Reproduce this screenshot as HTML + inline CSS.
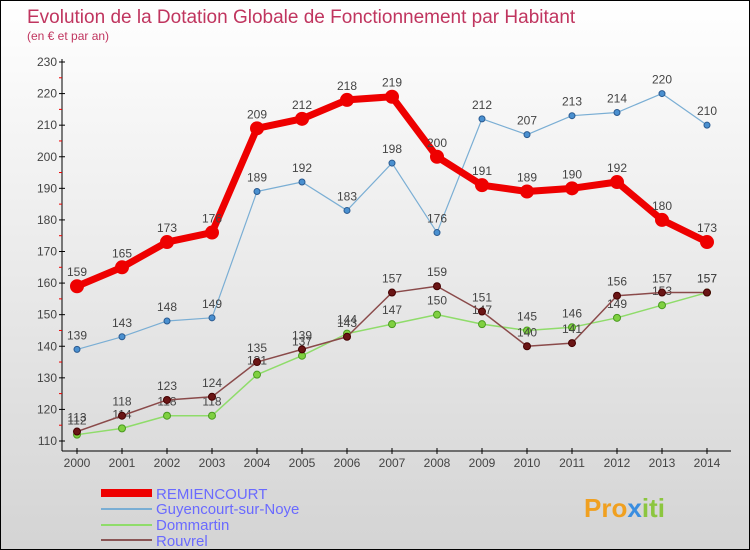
<!DOCTYPE html>
<html><head><meta charset="utf-8"><style>
body{margin:0}
#c{width:750px;height:550px;position:relative;overflow:hidden;box-sizing:border-box;border:1px solid #000;background:linear-gradient(#ffffff,#d4d4d4);font-family:"Liberation Sans",sans-serif}
</style></head><body>
<div id="c">
<svg id="s" width="750" height="550" style="position:absolute;left:0;top:0">
<text x="26" y="22" font-size="19" fill="#c0355f">Evolution de la Dotation Globale de Fonctionnement par Habitant</text>
<text x="26" y="39" font-size="12" fill="#c0355f">(en € et par an)</text>
<g id="axes"></g><g id="series"></g>
<g>
<rect x="100" y="488" width="51" height="8" fill="#e00"/>
<text x="155" y="498" font-size="15" fill="#6a6aff">REMIENCOURT</text>
<line x1="100" y1="508" x2="151" y2="508" stroke="#7aaed4" stroke-width="2"/>
<text x="155" y="513" font-size="15" fill="#6a6aff">Guyencourt-sur-Noye</text>
<line x1="100" y1="524" x2="151" y2="524" stroke="#8fdc6a" stroke-width="2"/>
<text x="155" y="529" font-size="15" fill="#6a6aff">Dommartin</text>
<line x1="100" y1="539" x2="151" y2="539" stroke="#8a5555" stroke-width="2"/>
<text x="155" y="545" font-size="15" fill="#6a6aff">Rouvrel</text>
</g>
<text x="583" y="516" font-size="26" font-weight="bold" fill="#f0a020">Pro<tspan fill="#3a8ee0">x</tspan><tspan fill="#8cc63f">iti</tspan></text>
</svg></div>
<script>
const years=[2000,2001,2002,2003,2004,2005,2006,2007,2008,2009,2010,2011,2012,2013,2014];
const remiencourt=[159,165,173,176,209,212,218,219,200,191,189,190,192,180,173];
const guyencourt=[139,143,148,149,189,192,183,198,176,212,207,213,214,220,210];
const dommartin=[112,114,118,118,131,137,144,147,150,147,145,146,149,153,157];
const rouvrel=[113,118,123,124,135,139,143,157,159,151,140,141,156,157,157];
const yTicks=[110,120,130,140,150,160,170,180,190,200,210,220,230];
const NS="http://www.w3.org/2000/svg";
const xS=i=>76+i*45;
const yS=v=>440-(v-110)*(379/120);
function mk(t,a,p){const e=document.createElementNS(NS,t);for(const k in a)e.setAttribute(k,a[k]);p.appendChild(e);return e;}
const ax=document.getElementById('axes');
let l=mk('line',{x1:61,y1:58,x2:61,y2:450,stroke:'#000'},ax);

l=mk('line',{x1:61,y1:450,x2:730,y2:450,stroke:'#000'},ax);

yTicks.forEach(v=>{const y=yS(v);mk('line',{x1:58,y1:y,x2:64,y2:y,stroke:'#000'},ax);
if(v<230)mk('line',{x1:58,y1:y-15.8,x2:61,y2:y-15.8,stroke:'#e00'},ax);
const t=mk('text',{x:56,y:y+4,'font-size':12,fill:'#444','text-anchor':'end'},ax);t.textContent=v;
});
years.forEach((yr,i)=>{const x=xS(i);mk('line',{x1:x,y1:447,x2:x,y2:453,stroke:'#000'},ax);
const t=mk('text',{x:x,y:466,'font-size':12,fill:'#444','text-anchor':'middle'},ax);t.textContent=yr;
});
const sg=document.getElementById('series');
function series(name,d,col,w,r,dot,dotStroke){
 const g=mk('g',{},sg);
 const p=mk('polyline',{points:d.map((v,i)=>xS(i)+','+yS(v)).join(' '),fill:'none',stroke:col,'stroke-width':w,'stroke-linejoin':'round'},g);
 
 d.forEach((v,i)=>{const c=mk('circle',{cx:xS(i),cy:yS(v),r:r,fill:dot,stroke:dotStroke,'stroke-width':1},g);
 
 const t=mk('text',{x:xS(i),y:yS(v)-10,'font-size':12,fill:'#444','text-anchor':'middle'},g);t.textContent=v;
 });
}
series('dommartin',dommartin,'#8fdc6a',1.5,3.5,'#7fd040','#4a9a20');
series('rouvrel',rouvrel,'#8a4a4a',1.5,3.5,'#6a1515','#400');
series('guyencourt',guyencourt,'#7aaed4',1.2,3,'#4a90d0','#2a5a90');
series('remiencourt',remiencourt,'#ee0000',7,6.5,'#ee0000','#ee0000');
</script>
</body></html>
